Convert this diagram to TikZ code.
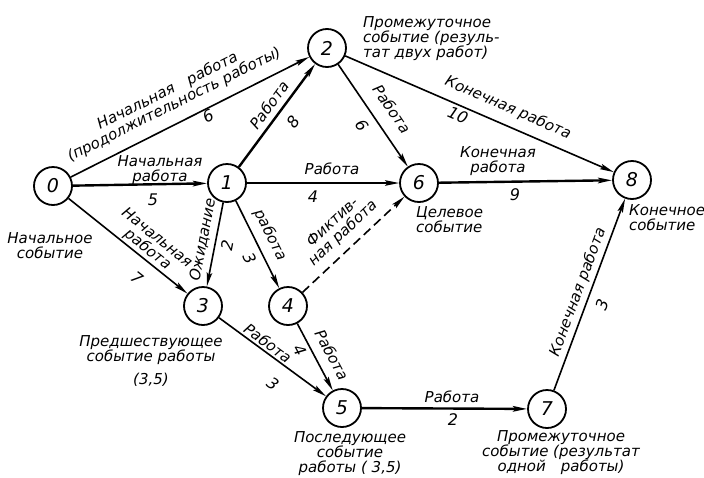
\documentclass[tikz,border=0pt]{standalone}
\usepackage{fontspec}
\setmainfont{DejaVu Sans}
\usetikzlibrary{arrows.meta}
\begin{document}
\begin{tikzpicture}[x=1pt,y=-1pt,
  every node/.style={inner sep=0pt},
  txt/.style={font=\itshape\fontsize{15}{15}\selectfont, align=center},
  txtl/.style={font=\itshape\fontsize{15}{15}\selectfont, align=left},
  num/.style={font=\itshape\fontsize{16}{16}\selectfont},
  ev/.style={circle, draw, line width=1.8pt, minimum size=38pt, inner sep=0pt, font=\itshape\fontsize{19}{19}\selectfont},
  wk/.style={line width=1.6pt, -{Stealth[length=14pt,width=5.5pt,inset=2.5pt]}},
  wkb/.style={wk, line width=2.4pt},
  fict/.style={wk, dash pattern=on 9pt off 5pt},
]
\useasboundingbox (0,0) rectangle (704,477);

% events
\node[ev] (n0) at (53,186) {0};
\node[ev] (n1) at (227,183) {1};
\node[ev] (n2) at (327,48) {2};
\node[ev] (n3) at (203,306) {3};
\node[ev] (n4) at (288,306) {4};
\node[ev] (n5) at (342,408) {5};
\node[ev] (n6) at (419,183) {6};
\node[ev] (n7) at (547,409) {7};
\node[ev] (n8) at (632,180) {8};

% works
\draw[wk]  (n0) -- (n2);
\draw[wkb] (n0) -- (n1);
\draw[wk]  (n0) -- (n3);
\draw[wkb] (n1) -- (n2);
\draw[wk]  (n1) -- (n6);
\draw[wk]  (n1) -- (n3);
\draw[wk]  (n1) -- (n4);
\draw[wk]  (n2) -- (n6);
\draw[wk]  (n2) -- (n8);
\draw[fict] (n4) -- (n6);
\draw[wk]  (n4) -- (n5);
\draw[wk]  (n3) -- (n5);
\draw[wkb] (n6) -- (n8);
\draw[wkb] (n5) -- (n7);
\draw[wk]  (n7) -- (n8);

% labels of works
\node[txt, rotate=26.6] (l02) at (171,98) {Начальная\quad работа\\(продолжительность работы)};
\node[num, rotate=26.6] (d02) at (208,116) {6};
\node[txt] (l01) at (160,170) {Начальная\\работа};
\node[num] (d01) at (153,200) {5};
\node[txt, rotate=53.5] (l12) at (269,105) {Работа};
\node[num, rotate=53.5] (d12) at (293,122) {8};
\node[txt, rotate=-55.7] (l26) at (392,109) {Работа};
\node[num, rotate=-55.7] (d26) at (362,125) {6};
\node[txt, rotate=-23.4] (l28) at (508,108) {Конечная работа};
\node[num, rotate=-23.4] (d28) at (458,115) {10};
\node[txt] (l16) at (332,169) {Работа};
\node[num] (d16) at (313,197) {4};
\node[txt] (l68) at (498,161) {Конечная\\работа};
\node[num] (d68) at (515,195) {9};
\node[txt, rotate=-38.5] (l03) at (152,244) {Начальная\\работа};
\node[num, rotate=-38.5] (d03) at (137,278) {7};
\node[txt, rotate=79] (l13) at (203,240) {Ожидание};
\node[num, rotate=79] (d13) at (227,245) {2};
\node[txt, rotate=-63.6] (l14) at (270,235) {работа};
\node[num, rotate=-63.6] (d14) at (250,258) {3};
\node[txt, rotate=43.2] (l46) at (338,228) {Фиктив-\\ная работа};
\node[txt, rotate=-62.1] (l45) at (332,355) {Работа};
\node[num, rotate=-62.1] (d45) at (300,350) {4};
\node[txt, rotate=-36.3] (l35) at (268,343) {Работа};
\node[num, rotate=-36.3] (d35) at (273,384) {3};
\node[txt] (l57) at (452,397) {Работа};
\node[num] (d57) at (453,420) {2};
\node[txt, rotate=69.6] (l78) at (578,292) {Конечная работа};
\node[num, rotate=69.6] (d78) at (602,305) {3};

% notes on events
\node[txt] (c0) at (50,246) {Начальное\\событие};
\node[txtl, anchor=north west] (c2) at (363,16) {Промежуточное\\событие (резуль-\\тат двух работ)};
\node[txtl, anchor=north west] (c6) at (416,206) {Целевое\\событие};
\node[txtl, anchor=north west] (c8) at (629,204) {Конечное\\событие};
\node[txt, anchor=north] (c3) at (151,335) {Предшествующее\\событие работы\\[8pt](3,5)};
\node[txt, anchor=north] (c5) at (350,431) {Последующее\\событие\\работы ( 3,5)};
\node[txt, anchor=north] (c7) at (561,430) {Промежуточное\\событие (результат\\одной\quad работы)};
\end{tikzpicture}
\end{document}
